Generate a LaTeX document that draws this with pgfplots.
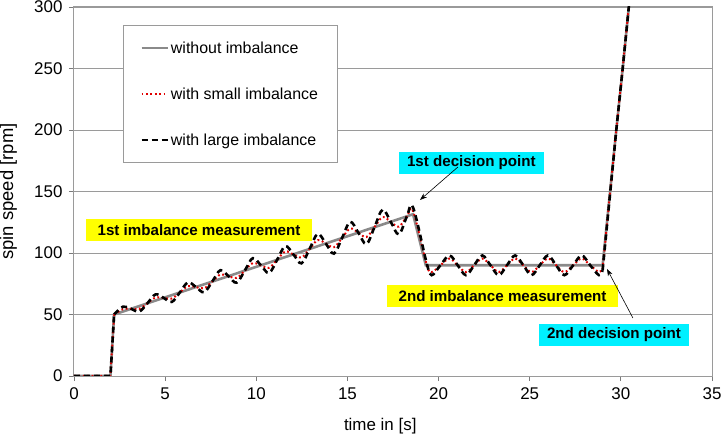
\documentclass[border=0pt]{standalone}
\usepackage{fontspec}
\setmainfont{Liberation Sans}
\usepackage{pgfplots}
\pgfplotsset{compat=1.18}
\usetikzlibrary{arrows.meta}
\definecolor{gridgray}{HTML}{9A9A9A}
\definecolor{axisgray}{HTML}{7A7A7A}
\definecolor{slowgray}{HTML}{8A8A8A}
\definecolor{smallred}{HTML}{E00000}
\definecolor{boxyellow}{HTML}{FFFF00}
\definecolor{boxcyan}{HTML}{00F0FF}
\newcommand{\fs}{\fontsize{15.2}{18}\selectfont}
\newcommand{\fl}{\fontsize{16}{19}\selectfont}
\newcommand{\ft}{\fontsize{17}{20}\selectfont}

\begin{document}
\begin{tikzpicture}
\begin{axis}[
  scale only axis,width=638bp,height=369bp,
  xmin=0,xmax=35,ymin=0,ymax=300,
  xtick={0,5,...,35},ytick={0,50,...,300},
  tick align=outside,tick pos=left,
  major tick length=5bp,
  tick style={axisgray,line width=0.8bp},
  ymajorgrids,grid style={gridgray,line width=0.8bp},
  axis line style={gridgray,line width=1bp},
  /pgf/number format/assume math mode=true,
  tick label style={font=\ft},
  xticklabel style={yshift=-3bp},
  yticklabel style={xshift=-3bp},
  xlabel={time in [s]},ylabel={spin speed [rpm]},
  x label style={font=\ft,at={(axis description cs:0.48,-0.135)},anchor=center},
  y label style={font=\fontsize{18.5}{21}\selectfont,at={(axis description cs:-0.1027,0.5)},anchor=center},
  legend style={at={(rel axis cs:0.0768,0.951)},anchor=north west,
    draw=gridgray,line width=0.8bp,font=\fl,
    inner xsep=17bp,inner ysep=14bp,row sep=29bp},
  legend cell align=left,
  legend image code/.code={\draw[#1] (0bp,0bp) -- (26bp,0bp);},
  clip=true]

% without imbalance
\addplot[slowgray,line width=2.6bp] coordinates {
  (0,0) (2.0,0) (2.2,50) (18.6,131.5) (19.3,90) (29.0,90)
  (29.75,200) (30.1,250) (30.45,302)};
\addlegendentry{without imbalance}

% with small imbalance
\addplot[smallred,line width=2bp,dash pattern=on 1.8bp off 2.6bp,smooth,tension=0.6] coordinates {
  (2.2,50.0) (2.69,54.4) (3.135,54.6) (3.58,54.6) (4.025,59.1) (4.47,63.8)
  (4.915,63.5) (5.36,63.0) (5.805,67.9) (6.25,73.1) (6.695,72.3) (7.14,71.3)
  (7.585,76.8) (8.03,82.5) (8.475,81.2) (8.92,79.7) (9.365,85.6) (9.81,91.8)
  (10.255,90.0) (10.70,88.0) (11.145,94.5) (11.59,101.2) (12.035,98.9)
  (12.48,96.4) (12.925,103.3) (13.37,110.5) (13.815,107.7) (14.26,104.7)
  (14.705,112.2) (15.15,119.8) (15.595,116.6) (16.04,113.0) (16.485,121.0)
  (16.93,129.2) (17.375,125.4) (17.82,121.4) (18.265,129.8) (18.6,134.0)
  (19.35,90.5) (19.62,84.5) (20.1,90) (20.6,95.5) (21.05,90) (21.5,84.5)
  (21.95,90) (22.4,95.5) (22.85,90) (23.3,84.5) (23.75,90) (24.2,95.5)
  (24.65,90) (25.1,84.5) (25.55,90) (26.0,95.5) (26.45,90) (26.9,84.5)
  (27.38,90) (27.85,95.5) (28.32,90) (28.8,84.5) (29.0,87)};
\addlegendentry{with small imbalance}

% with large imbalance
\addplot[black,line width=2.6bp,dash pattern=on 6bp off 4bp,smooth,tension=0.6] coordinates {
  (2.2,50.0) (2.69,56.4) (3.135,54.6) (3.58,52.4) (4.025,59.1) (4.47,66.3)
  (4.915,63.5) (5.36,60.2) (5.805,67.9) (6.25,76.1) (6.695,72.3) (7.14,68.1)
  (7.585,76.8) (8.03,86.0) (8.475,81.2) (8.92,75.9) (9.365,85.6) (9.81,95.8)
  (10.255,90.0) (10.70,83.8) (11.145,94.5) (11.59,105.6) (12.035,98.9)
  (12.48,91.6) (12.925,103.3) (13.37,115.5) (13.815,107.7) (14.26,99.5)
  (14.705,112.2) (15.15,125.3) (15.595,116.6) (16.04,107.3) (16.485,121.0)
  (16.93,135.2) (17.375,125.4) (17.82,115.2) (18.265,129.8) (18.6,137.0)
  (19.35,91.6) (19.62,82.0) (20.1,90) (20.6,98) (21.05,90) (21.5,82)
  (21.95,90) (22.4,98) (22.85,90) (23.3,82) (23.75,90) (24.2,98)
  (24.65,90) (25.1,82) (25.55,90) (26.0,98) (26.45,90) (26.9,82)
  (27.38,90) (27.85,98) (28.32,90) (28.8,82) (29.0,86)};
\addlegendentry{with large imbalance}

% straight parts of the two imbalance curves
\addplot[forget plot,smallred,line width=2bp,dash pattern=on 1.8bp off 2.6bp] coordinates {
  (0,0) (2.0,0) (2.2,50)};
\addplot[forget plot,smallred,line width=2bp,dash pattern=on 1.8bp off 2.6bp] coordinates {
  (29.0,87) (29.75,200) (30.1,250) (30.45,302)};
\addplot[forget plot,black,line width=2.6bp,dash pattern=on 6bp off 4bp] coordinates {
  (0,0) (2.0,0) (2.2,50)};
\addplot[forget plot,black,line width=2.6bp,dash pattern=on 6bp off 4bp] coordinates {
  (29.0,86) (29.75,200) (30.1,250) (30.45,302)};

% annotations
\node[fill=boxyellow,font=\fs\bfseries,minimum width=226bp,minimum height=22bp,inner sep=0pt]
  at (axis cs:6.86,118.7) {1st imbalance measurement};
\node[fill=boxyellow,font=\fs\bfseries,minimum width=231bp,minimum height=22bp,inner sep=0pt]
  at (axis cs:23.51,65.0) {2nd imbalance measurement};
\node[fill=boxcyan,font=\fs\bfseries,minimum width=145bp,minimum height=22bp,inner sep=0pt]
  at (axis cs:21.80,173.2) {1st decision point};
\node[fill=boxcyan,font=\fs\bfseries,minimum width=150bp,minimum height=22bp,inner sep=0pt]
  at (axis cs:29.62,33.3) {2nd decision point};
\draw[-{Stealth[length=7bp,width=5bp]},line width=0.6bp] (axis cs:21.06,169.9) -- (axis cs:18.98,143.1);
\draw[-{Stealth[length=7bp,width=5bp]},line width=0.6bp] (axis cs:30.66,47.2) -- (axis cs:29.24,87.0);
\end{axis}
\pgfresetboundingbox
\path[use as bounding box] (-74bp,-59bp) rectangle (648bp,376bp);
\end{tikzpicture}
\end{document}
